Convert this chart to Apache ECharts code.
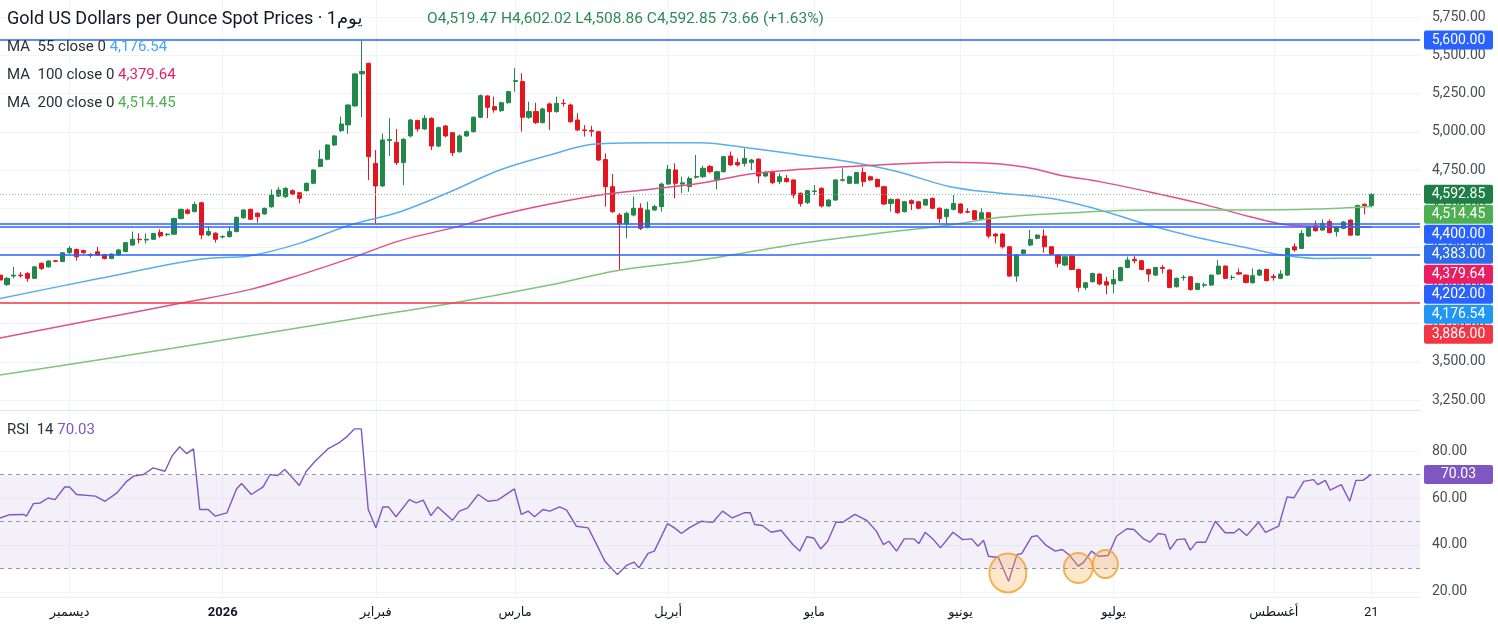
<!DOCTYPE html>
<html><head><meta charset="utf-8">
<script src="https://cdn.jsdelivr.net/npm/echarts@6/dist/echarts.min.js"></script>
<style>html,body{margin:0;padding:0;background:#fff;}#c{width:1498px;height:631px;}</style>
</head><body><div id="c"></div>
<script>
// ---------- DATA ----------
const startDate = '2025-11-17';
const holidays = ['2025-12-25', '2026-04-03'];
const futureBars = 7;
const monthLabels = {
  '2025-12-01': 'ديسمبر', '2026-01-01': '2026', '2026-02-02': 'فبراير', '2026-03-02': 'مارس',
  '2026-04-01': 'أبريل', '2026-05-01': 'مايو', '2026-06-01': 'يونيو', '2026-07-01': 'يوليو',
  '2026-08-03': 'أغسطس', '2026-08-21': '21'
};
// [open, close, low, high]
const candles = [
[4066,4034,4025,4075],[4005,4045,3995,4055],[4060,4066,4045,4120],[4066,4062,4050,4085],[4077,4045,4023,4085],
[4045,4120,4040,4125],[4143,4110,4100,4150],[4120,4158,4115,4162],[4160,4156,4150,4165],[4155,4212,4150,4215],
[4212,4240,4205,4256],[4233,4186,4160,4240],[4226,4212,4205,4232],[4198,4196,4180,4210],[4218,4197,4190,4250],
[4200,4175,4168,4205],[4175,4203,4170,4208],[4198,4230,4192,4238],[4220,4278,4215,4282],[4262,4300,4258,4350],
[4300,4297,4273,4340],[4295,4300,4273,4338],[4300,4338,4295,4342],[4345,4322,4310,4365],[4330,4333,4320,4340],
[4333,4436,4330,4440],[4436,4495,4430,4500],[4491,4469,4462,4500],[4480,4527,4475,4545],[4538,4328,4300,4545],
[4328,4350,4320,4382],[4340,4300,4278,4345],[4315,4318,4305,4325],[4317,4350,4312,4383],[4350,4443,4345,4448],
[4440,4491,4435,4495],[4495,4430,4425,4500],[4470,4447,4408,4475],[4465,4502,4460,4506],[4512,4588,4505,4625],
[4582,4621,4575,4640],[4578,4632,4570,4640],[4617,4595,4588,4625],[4603,4567,4535,4608],[4617,4665,4612,4670],
[4665,4752,4660,4756],[4775,4822,4770,4882],[4822,4915,4815,4920],[4915,4974,4910,4980],[5008,5052,5000,5100],
[5046,5176,4987,5180],[5170,5379,5165,5385],[5379,5395,5096,5596],[5448,4839,4687,5452],[4795,4648,4404,4882],
[4648,4948,4640,4990],[4945,4950,4843,5090],[4932,4800,4785,5020],[4800,4952,4654,4960],[4974,5078,4965,5085],
[5074,5020,5002,5080],[5020,5089,5012,5110],[5089,4908,4882,5095],[4908,5028,4900,5035],[5039,4974,4965,5045],
[4995,4865,4843,5000],[4871,4974,4865,4985],[4974,5002,4968,5010],[5002,5096,4996,5102],[5096,5237,5090,5245],
[5235,5161,5090,5240],[5165,5144,5126,5230],[5139,5191,5130,5198],[5191,5263,5185,5268],[5330,5335,5263,5416],
[5329,5096,5002,5383],[5096,5133,5085,5198],[5133,5061,5052,5190],[5061,5150,5055,5158],[5183,5133,5013,5192],
[5133,5187,5125,5231],[5187,5185,5165,5215],[5176,5067,5060,5185],[5078,5013,5005,5122],[5013,5010,4970,5045],
[5010,5005,4970,5040],[5002,4817,4810,5008],[4820,4643,4513,4860],[4643,4480,4472,4726],[4458,4400,4099,4470],
[4400,4469,4306,4480],[4458,4502,4450,4578],[4502,4371,4360,4534],[4378,4491,4370,4545],[4491,4513,4485,4525],
[4513,4660,4480,4670],[4660,4756,4655,4785],[4752,4665,4567,4795],[4660,4668,4600,4708],[4643,4697,4610,4710],
[4705,4710,4695,4850],[4708,4763,4700,4780],[4774,4741,4730,4785],[4687,4741,4626,4745],[4741,4839,4735,4845],
[4843,4785,4778,4872],[4800,4785,4774,4828],[4795,4828,4774,4893],[4800,4817,4752,4825],[4822,4713,4665,4830],
[4713,4735,4705,4745],[4741,4669,4660,4748],[4676,4708,4660,4730],[4697,4676,4670,4719],[4687,4589,4567,4692],
[4600,4534,4513,4605],[4539,4617,4530,4622],[4612,4615,4589,4654],[4632,4517,4508,4640],[4517,4556,4510,4562],
[4556,4687,4550,4692],[4685,4688,4676,4763],[4665,4708,4660,4715],[4665,4735,4660,4740],[4735,4676,4643,4769],
[4708,4687,4680,4715],[4691,4643,4638,4695],[4643,4530,4522,4648],[4534,4560,4480,4565],[4560,4473,4466,4565],
[4480,4545,4475,4550],[4552,4534,4491,4560],[4545,4502,4495,4550],[4523,4560,4518,4565],[4567,4502,4495,4572],
[4502,4436,4408,4508],[4447,4495,4382,4500],[4495,4534,4488,4589],[4530,4473,4466,4535],[4480,4477,4469,4502],
[4486,4430,4425,4490],[4430,4473,4425,4502],[4473,4321,4306,4478],[4334,4321,4273,4340],[4334,4251,4240,4340],
[4251,4060,4055,4256],[4060,4197,4023,4202],[4208,4230,4200,4235],[4262,4299,4255,4360],[4306,4327,4300,4332],
[4321,4251,4212,4365],[4251,4203,4195,4256],[4197,4143,4116,4200],[4132,4186,4125,4190],[4190,4103,4098,4195],
[4103,3986,3958,4108],[3986,4016,3969,4020],[4023,4077,4018,4082],[4073,4008,4000,4078],[4023,4001,3942,4055],
[4008,4038,3947,4099],[4030,4116,4025,4120],[4116,4164,4110,4186],[4169,4160,4143,4190],[4160,4103,4098,4165],
[4103,4073,4023,4108],[4066,4116,4060,4120],[4116,4110,4077,4132],[4099,3986,3980,4105],[3990,4045,3985,4050],
[4050,4052,4030,4066],[4055,3973,3965,4060],[3973,4012,3968,4016],[4000,4003,3985,4016],[4001,4066,3995,4070],
[4073,4125,4068,4164],[4125,4045,4040,4130],[4050,4052,4034,4066],[4082,4073,4066,4110],[4066,4018,4012,4070],
[4016,4062,4010,4110],[4066,4099,4060,4105],[4103,4030,4025,4108],[4058,4050,4030,4073],[4045,4073,4040,4099],
[4066,4240,4060,4245],[4251,4230,4220,4273],[4240,4338,4235,4360],[4321,4382,4315,4388],[4388,4356,4350,4421],
[4360,4404,4355,4430],[4415,4343,4338,4430],[4349,4377,4317,4382],[4371,4412,4365,4418],[4425,4327,4321,4430],
[4327,4520,4321,4526],[4528,4518,4462,4534],[4519.47,4592.85,4508.86,4602.02]
];
// moving averages: [bar position, value]
const ma55 = [[0,3914],[14.4,4045],[28.7,4169],[36,4193],[43,4273],[50.3,4393],[57.5,4480],[64.7,4610],[71.8,4752],
[79,4850],[85.5,4922],[93.4,4930],[100.6,4930],[107.8,4893],[115,4850],[122,4806],[129,4741],[136.5,4643],[143.7,4600],
[150.9,4567],[158,4491],[165,4393],[172,4312],[179.6,4240],[184.4,4195],[189,4175],[197,4176.54]];
const ma100 = [[0,3655],[13.4,3773],[25.9,3882],[36,3973],[43,4066],[50.3,4175],[57.5,4291],[64.7,4371],[71.8,4458],
[79,4530],[86.2,4589],[93.4,4626],[100.6,4665],[107.8,4726],[115,4756],[122,4774],[129,4791],[136.5,4802],[143.7,4791],
[148.5,4760],[152.3,4718],[158,4676],[165,4610],[172.4,4534],[179.6,4447],[184.4,4397],[189,4386],[197,4379.64]];
const ma200 = [[0,3414],[25,3590],[50.3,3777],[64.7,3881],[79,4001],[88.6,4095],[100.6,4164],[115,4273],[129,4354],
[136.5,4393],[143.7,4443],[152.3,4469],[165,4491],[179.6,4491],[189,4497],[197,4514.45]];
const rsi = [[0,51.5],[1.4,52.9],[3.4,53],[3.8,52.3],[4.8,57.6],[5.8,57.9],[6.9,60],[7.9,59.3],[9.3,64.7],[10,64.7],
[11,61.5],[13.7,60.8],[15.1,58.6],[16.8,62.2],[18.2,67.1],[19.2,69.3],[20.6,70],[22,72.8],[23.7,71.4],[24.7,77.8],
[25.8,81.8],[26.8,78.9],[27.8,80.9],[28.7,55.1],[29.9,55.1],[30.9,52.3],[32.6,53.7],[34,63.9],[34.7,66.2],[36.1,61.5],
[37.8,64.7],[38.8,70],[39.9,69.6],[40.9,72.1],[41.9,69],[43,65.3],[44,71.4],[45.4,76.1],[47.1,80.9],[48.8,83.7],
[49.8,86],[50.9,89.4],[51.9,89.4],[52.9,55.1],[54,47.3],[55,56.2],[55.8,56.2],[56.9,52],[58.8,59.3],[59.8,57.9],
[60.8,59.1],[61.9,52.5],[62.9,56.2],[65,50.5],[66,54.4],[67.2,55.8],[68.7,61.5],[70.1,58.6],[71.5,59.1],[73.9,63.9],
[74.9,53],[75.9,54.4],[76.8,52],[78,55.1],[79,54.4],[80.4,56.2],[81.4,54.8],[82.8,48],[84.5,47.3],[85.6,40.9],
[86.9,33.1],[88.7,27.4],[90,31.3],[91.1,32.7],[91.8,30.3],[93.1,36.4],[94,37.4],[95.9,49.1],[96.9,47.3],[97.9,44.9],
[99,47.3],[100.7,50.1],[102.4,49.7],[103.8,54.4],[105.2,51.5],[106.9,53.7],[107.8,53.7],[108.4,48.7],[109.5,48.3],
[110.8,45.4],[112.2,46.3],[113.9,40.2],[114.9,37.4],[115.9,43.5],[116.9,43],[117.9,38.3],[118.9,41.6],[120.1,49.7],
[121.1,49.7],[122.8,53],[124.5,50.5],[125.9,45.9],[126.9,40.2],[127.7,41.6],[128.8,37.4],[129.9,42.6],[131.3,42.6],
[132,40.6],[132.9,45.4],[134.1,42.3],[135.1,38.8],[136.9,45.4],[138.3,42.3],[139.6,42.6],[140.5,39.5],[141.3,42],
[142,35.2],[142.8,34.9],[143.4,34.9],[144.9,24.6],[146.1,35.9],[146.8,36.4],[148.2,43.5],[149,44],[150.3,39.8],
[151.6,37.4],[152.6,38.1],[153.7,35.5],[154.9,31],[155.7,32.7],[156.8,37.4],[157.8,35.2],[159.2,35.5],[160.4,43.7],
[161.9,46.9],[162.9,46.6],[164.3,42.6],[165.2,41.2],[166.4,44.9],[167.4,44.4],[168.1,38.1],[169.1,42.3],[170.2,42.6],
[171,37.8],[171.9,41.2],[173.2,41.2],[174.6,50.1],[176,45.2],[177.3,45.2],[178,46.9],[179.1,44],[180.8,49.7],
[181.8,45.4],[183.7,48],[184.9,60.5],[185.9,60.1],[187.3,67.1],[188.7,67.8],[189.3,65.7],[190.4,67.5],[191.1,63.3],
[192.7,65.7],[193.9,58.6],[194.8,67.5],[195.8,67.5],[197,70.03]];
const rsiHighlights = [[144.8,28.1],[154.9,30.2],[158.8,31.9]];
const levelBlue = [5600, 4400, 4383, 4202];
const levelRed = [3886];
const rsiLevels = [70, 50, 30];
const titleText = 'Gold US Dollars per Ounce Spot Prices · يوم1';
const ohlcChange = '73.66 (+1.63%)';

// ---------- BUILD ----------
function buildDates(n) {
  const out = []; const p = startDate.split('-').map(Number);
  const d = new Date(Date.UTC(p[0], p[1] - 1, p[2]));
  while (out.length < n) {
    const s = d.toISOString().slice(0, 10), w = d.getUTCDay();
    if (w !== 0 && w !== 6 && holidays.indexOf(s) < 0) out.push(s);
    d.setUTCDate(d.getUTCDate() + 1);
  }
  return out;
}
const dates = buildDates(candles.length + futureBars);
const lastIdx = dates.length - 1;
const fmt = v => v.toLocaleString('en-US', {minimumFractionDigits: 2, maximumFractionDigits: 2});
const FONT = 'Roboto, "DejaVu Sans", sans-serif';
const UP = '#22874A', DOWN = '#E3151D';
const BLUE = '#2962FF', RED = '#F23645';
const C55 = '#5AAEEA', C100 = '#E0508A', C200 = '#7DC47D', CRSI = '#7E57C2';
const last = candles[candles.length - 1];

const isLabel = (i, v) => !!monthLabels[v];
const gridCommon = {left: 0, right: 78, containLabel: false, outerBoundsMode: 'none'};
const chart = echarts.init(document.getElementById('c'), null, {renderer: 'canvas'});

const option = {
  animation: false,
  backgroundColor: '#ffffff',
  textStyle: {fontFamily: FONT},
  grid: [
    Object.assign({top: 0, height: 410}, gridCommon),
    Object.assign({top: 410, height: 187}, gridCommon),
    Object.assign({top: 597, height: 1}, gridCommon)
  ],
  xAxis: [
    {type: 'category', gridIndex: 0, data: dates, boundaryGap: false,
     axisLine: {show: true, lineStyle: {color: '#E0E3EB', width: 1}}, axisTick: {show: false}, axisLabel: {show: false},
     splitLine: {show: true, interval: isLabel, lineStyle: {color: '#F0F3FA', width: 1}}},
    {type: 'category', gridIndex: 1, data: dates, boundaryGap: false,
     axisLine: {show: true, lineStyle: {color: '#EEF0F4', width: 1}}, axisTick: {show: false}, axisLabel: {show: false},
     splitLine: {show: true, interval: isLabel, lineStyle: {color: '#F0F3FA', width: 1}}},
    {type: 'category', gridIndex: 2, data: dates, boundaryGap: false,
     axisLine: {show: false}, axisTick: {show: false}, splitLine: {show: false},
     axisLabel: {show: true, interval: isLabel, margin: 8, color: '#131722', fontSize: 13, fontFamily: FONT,
       formatter: v => monthLabels[v] === '2026' ? '{b|2026}' : (monthLabels[v] || ''),
       rich: {b: {fontWeight: 'bold', fontSize: 13, color: '#131722', fontFamily: FONT}}}},
    {type: 'value', gridIndex: 0, min: 0, max: lastIdx, show: false},
    {type: 'value', gridIndex: 1, min: 0, max: lastIdx, show: false}
  ],
  yAxis: [
    {type: 'value', gridIndex: 0, position: 'right', min: 3186, max: 5861, minInterval: 250, maxInterval: 250,
     axisLine: {show: false}, axisTick: {show: false},
     axisLabel: {margin: 12, color: '#4A4D57', fontSize: 14, fontFamily: FONT,
       formatter: v => (Math.abs(v % 250) < 1e-6 ? fmt(v) : '')},
     splitLine: {show: true, showMinLine: false, showMaxLine: false, lineStyle: {color: '#F0F3FA', width: 1}}},
    {type: 'value', gridIndex: 1, position: 'right', min: 17.87, max: 97.45, minInterval: 20, maxInterval: 20,
     axisLine: {show: false}, axisTick: {show: false},
     axisLabel: {margin: 12, color: '#4A4D57', fontSize: 14, fontFamily: FONT,
       formatter: v => (Math.abs(v % 20) < 1e-6 ? fmt(v) : '')},
     splitLine: {show: true, showMinLine: false, showMaxLine: false, lineStyle: {color: '#F3F4F7', width: 1}}},
    {type: 'value', gridIndex: 2, show: false}
  ],
  series: [
    {type: 'candlestick', name: 'price', xAxisIndex: 0, yAxisIndex: 0, data: candles, barWidth: 4.6,
     itemStyle: {color: UP, color0: DOWN, borderColor: UP, borderColor0: DOWN, borderWidth: 1},
     markLine: {silent: true, symbol: 'none', animation: false, label: {show: false},
       data: levelBlue.map(v => ({yAxis: v, lineStyle: {color: BLUE, width: 1.6, type: 'solid'}}))
         .concat(levelRed.map(v => ({yAxis: v, lineStyle: {color: RED, width: 1.6, type: 'solid'}})))
         .concat([{yAxis: last[1], lineStyle: {color: '#8FB89C', width: 1, type: [1, 2]}}])}},
    {type: 'line', name: 'MA55', xAxisIndex: 3, yAxisIndex: 0, data: ma55, smooth: 0.35, showSymbol: false,
     lineStyle: {color: C55, width: 1.5}, z: 3},
    {type: 'line', name: 'MA100', xAxisIndex: 3, yAxisIndex: 0, data: ma100, smooth: 0.35, showSymbol: false,
     lineStyle: {color: C100, width: 1.5}, z: 3},
    {type: 'line', name: 'MA200', xAxisIndex: 3, yAxisIndex: 0, data: ma200, smooth: 0.35, showSymbol: false,
     lineStyle: {color: C200, width: 1.5}, z: 3},
    {type: 'line', name: 'RSI', xAxisIndex: 4, yAxisIndex: 1, data: rsi, showSymbol: false,
     lineStyle: {color: CRSI, width: 1.4},
     markArea: {silent: true, itemStyle: {color: 'rgba(126,87,194,0.09)'}, data: [[{yAxis: rsiLevels[2]}, {yAxis: rsiLevels[0]}]]},
     markLine: {silent: true, symbol: 'none', animation: false, label: {show: false},
       data: rsiLevels.map(v => ({yAxis: v, lineStyle: {color: '#9598A1', width: 1, type: [4, 4]}}))}},
    {type: 'scatter', name: 'marks', xAxisIndex: 4, yAxisIndex: 1, data: rsiHighlights, z: 4,
     symbolSize: (val, p) => [[37, 39], [29, 30], [25, 28]][p.dataIndex],
     itemStyle: {color: 'rgba(255,176,80,0.38)', borderColor: '#F0A030', borderWidth: 2}}
  ]
};
chart.setOption(option);

// ---------- legends and price tags ----------
function tagGraphic(y, text, bg) {
  return {type: 'group', x: 1424, y: y - 9.5, zlevel: 1, z: 100, children: [
    {type: 'rect', zlevel: 1, shape: {x: 0, y: 0, width: 69, height: 19, r: 2}, style: {fill: bg}},
    {type: 'text', zlevel: 1, x: 34.5, y: 9.5, style: {text: text, fill: '#ffffff', font: '14px ' + FONT, align: 'center', verticalAlign: 'middle'}}
  ]};
}
const tags = [
  {v: last[1], color: '#1F7E45'},
  {v: ma200[ma200.length - 1][1], color: '#4CAF50'},
  {v: levelBlue[1], color: BLUE},
  {v: levelBlue[2], color: '#2D6BEA'},
  {v: ma100[ma100.length - 1][1], color: '#E91E63'},
  {v: levelBlue[3], color: BLUE},
  {v: ma55[ma55.length - 1][1], color: '#2196F3'},
  {v: levelRed[0], color: RED}
].sort((a, b) => b.v - a.v);
const graphics = [];
graphics.push(tagGraphic(chart.convertToPixel({yAxisIndex: 0}, levelBlue[0]), fmt(levelBlue[0]), BLUE));
let prevY = -1e9;
tags.forEach(t => {
  let y = chart.convertToPixel({yAxisIndex: 0}, t.v);
  if (y < prevY + 20) y = prevY + 20;
  prevY = y;
  graphics.push(tagGraphic(y, fmt(t.v), t.color));
});
const rsiLast = rsi[rsi.length - 1][1];
graphics.push(tagGraphic(chart.convertToPixel({yAxisIndex: 1}, rsiLast), fmt(rsiLast), CRSI));

const lab = '#2A2E39';
function legendText(x, y, parts) {
  return {type: 'text', x: x, y: y, zlevel: 1, z: 100, style: {
    text: parts.map((p, i) => '{s' + i + '|' + p[0] + '}').join(''),
    verticalAlign: 'middle',
    rich: Object.fromEntries(parts.map((p, i) => ['s' + i, {fill: p[1], font: p[2] || ('15px ' + FONT)}]))
  }};
}
graphics.push(legendText(7, 19, [[titleText, '#131722', '18px ' + FONT]]));
graphics.push(legendText(427, 19, [[
  'O' + fmt(last[0]) + ' H' + fmt(last[3]) + ' L' + fmt(last[2]) + ' C' + fmt(last[1]) + ' ' + ohlcChange, '#2E8B57', '15.5px ' + FONT]]));
graphics.push(legendText(7, 47, [['MA  55 close 0 ', lab], [fmt(ma55[ma55.length - 1][1]), '#42A5F5']]));
graphics.push(legendText(7, 75, [['MA  100 close 0 ', lab], [fmt(ma100[ma100.length - 1][1]), '#E91E63']]));
graphics.push(legendText(7, 103, [['MA  200 close 0 ', lab], [fmt(ma200[ma200.length - 1][1]), '#4CAF50']]));
graphics.push(legendText(7, 430, [['RSI  14 ', lab], [fmt(rsiLast), CRSI]]));
chart.setOption({graphic: graphics});
</script>
</body></html>
